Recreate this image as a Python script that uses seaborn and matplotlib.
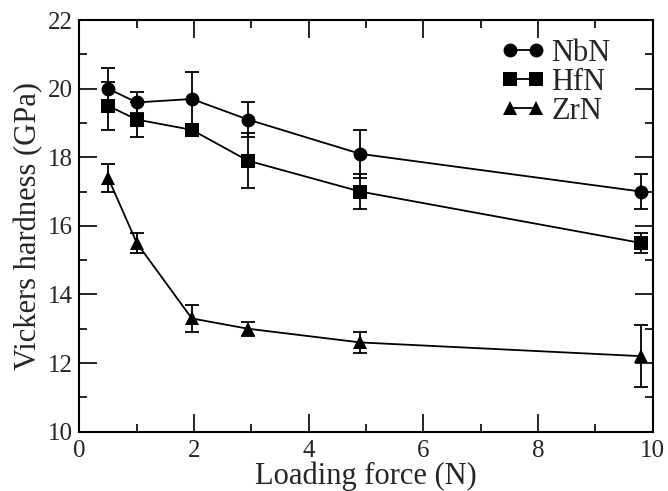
import numpy as np
import pandas as pd
import matplotlib
matplotlib.use("Agg")
import matplotlib.pyplot as plt
from matplotlib.ticker import MultipleLocator
import seaborn as sns

# Loading force (N)
force = [0.5, 1.0, 1.96, 2.94, 4.9, 9.8]

# Vickers hardness (GPa) and error bars
nbn = [20.0, 19.6, 19.7, 19.1, 18.1, 17.0]
nbn_err = [0.6, 0.3, 0.8, 0.5, 0.7, 0.5]
hfn = [19.5, 19.1, 18.8, 17.9, 17.0, 15.5]
hfn_err = [0.7, 0.5, 0.1, 0.8, 0.5, 0.3]
zrn = [17.4, 15.5, 13.3, 13.0, 12.6, 12.2]
zrn_err = [0.4, 0.3, 0.4, 0.2, 0.3, 0.9]

materials = ["NbN", "HfN", "ZrN"]
values = [nbn, hfn, zrn]
errors = [nbn_err, hfn_err, zrn_err]
markers = {"NbN": "o", "HfN": "s", "ZrN": "^"}

df = pd.DataFrame({
    "force": force * 3,
    "hardness": nbn + hfn + zrn,
    "err": nbn_err + hfn_err + zrn_err,
    "material": [m for m in materials for _ in force],
})

sns.set_theme(style="ticks")
plt.rcParams["font.family"] = ["Liberation Serif", "DejaVu Serif"]

fig = plt.figure(figsize=(6.68, 4.91), dpi=100)
ax = fig.add_axes([0.119, 0.121, 0.858, 0.838])

sns.lineplot(
    data=df, x="force", y="hardness", hue="material", style="material",
    palette=["black"] * 3, markers=markers, dashes=False, markersize=10,
    linewidth=1.3, markeredgewidth=0, ax=ax, legend=False, zorder=3,
)

for m, v, e in zip(materials, values, errors):
    ax.errorbar(force, v, yerr=e, fmt="none", ecolor="black",
                elinewidth=1.3, capsize=5, capthick=1.3, zorder=2)

handles = [
    plt.Line2D([], [], color="black", marker=markers[m], markersize=10,
               linewidth=1.3, markeredgewidth=0)
    for m in materials
]
ax.legend(handles, materials, loc="upper right", frameon=False,
          fontsize=22, numpoints=2, handlelength=1.45, handletextpad=0.2,
          labelspacing=0.0, borderaxespad=0.0, borderpad=0.3,
          bbox_to_anchor=(0.943, 0.977))

ax.set_xlim(0, 10)
ax.set_ylim(10, 22)
ax.xaxis.set_major_locator(MultipleLocator(2))
ax.xaxis.set_minor_locator(MultipleLocator(1))
ax.yaxis.set_major_locator(MultipleLocator(2))
ax.yaxis.set_minor_locator(MultipleLocator(1))
ax.tick_params(which="both", direction="in", top=True, right=True,
               width=1.2, color="black", labelsize=18)
ax.tick_params(axis="x", pad=6)
ax.tick_params(axis="y", pad=5)
ax.tick_params(which="major", length=13)
ax.tick_params(which="minor", length=6)
for s in ax.spines.values():
    s.set_linewidth(1.5)
    s.set_color("black")

ax.set_xlabel("Loading force (N)", fontsize=22, labelpad=0)
ax.set_ylabel("Vickers hardness (GPa)", fontsize=22, labelpad=3)

fig.savefig("out.png", dpi=100)
